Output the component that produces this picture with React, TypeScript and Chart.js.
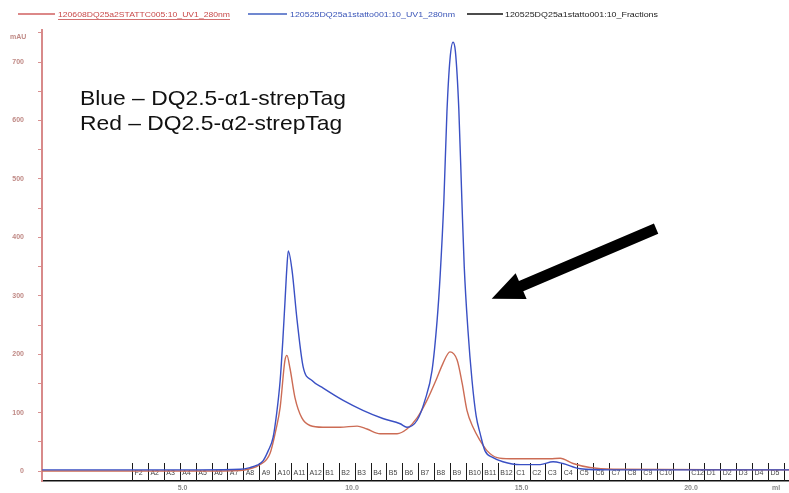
import React, { useEffect, useRef } from "react";
import { Chart, registerables } from "chart.js";

Chart.register(...registerables);

// UV 280 nm trace, DQ2.5-α1-strepTag run (ml, mAU)
const blueVolume = [
  0.86, 2.6, 5.5, 6.7, 6.99, 7.2, 7.38, 7.53, 7.67, 7.78, 7.88, 7.96, 8.02, 8.08, 8.12,
  8.23, 8.38, 8.56, 8.82, 9.15, 9.74, 10.32, 10.91, 11.42, 11.62, 11.92, 12.15, 12.36,
  12.51, 12.6, 12.71, 12.8, 12.89, 12.98, 13.05, 13.15, 13.24, 13.31, 13.42, 13.54,
  13.66, 13.78, 13.92, 14.16, 14.45, 14.96, 15.55, 15.93, 16.22, 16.73, 17.61, 22.89,
];
const blueAbs = [
  2, 2, 2, 3, 6, 10, 18, 35, 57, 100, 155, 225, 287, 350, 377,
  344, 258, 178, 155, 142, 121, 104, 90, 81, 75, 87, 121, 172,
  258, 335, 464, 615, 705, 734, 718, 620, 464, 350, 241, 155,
  95, 64, 35, 23, 16, 11, 11, 16, 13, 4, 2, 2,
];

// UV 280 nm trace, DQ2.5-α2-strepTag run (ml, mAU)
const redVolume = [
  0.86, 5.5, 6.7, 6.99, 7.26, 7.58, 7.76, 7.88, 8.02, 8.08, 8.17, 8.32, 8.52, 8.76,
  9.14, 9.65, 10.15, 10.44, 10.83, 11.33, 11.62, 11.92, 12.21, 12.51, 12.68, 12.89,
  13.1, 13.25, 13.39, 13.57, 13.78, 13.98, 14.28, 14.66, 15.84, 16.14, 16.52, 17.02,
  17.7, 22.89,
];
const redAbs = [
  0, 0, 1, 4, 10, 30, 72, 109, 189, 198, 176, 125, 91, 78,
  75, 75, 77, 72, 64, 64, 72, 91, 121, 160, 184, 204,
  190, 150, 104, 75, 52, 35, 23, 21, 21, 22, 13, 6,
  3, 2,
];

// Fraction collector marks (ml) and fraction names
const fractionStarts = [
  3.51, 3.98, 4.45, 4.92, 5.39, 5.86, 6.32, 6.79, 7.26, 7.73, 8.2, 8.67, 9.14, 9.61,
  10.08, 10.55, 11.01, 11.48, 11.95, 12.42, 12.89, 13.36, 13.83, 14.3, 14.77, 15.24,
  15.7, 16.17, 16.64, 17.11, 17.58, 18.05, 18.52, 18.99, 19.46, 19.93, 20.39, 20.86,
  21.33, 21.8, 22.27, 22.74,
];
const fractionLabels = [
  "F2", "A2", "A3", "A4", "A5", "A6", "A7", "A8", "A9", "A10", "A11", "A12",
  "B1", "B2", "B3", "B4", "B5", "B6", "B7", "B8", "B9", "B10", "B11", "B12",
  "C1", "C2", "C3", "C4", "C5", "C6", "C7", "C8", "C9", "C10", "", "C12",
  "D1", "D2", "D3", "D4", "D5",
];

const volumeTicks = [5, 10, 15, 20];
const absTicks = [0, 50, 100, 150, 200, 250, 300, 350, 400, 450, 500, 550, 600, 650, 700, 750];

const curveNames = [
  "120608DQ25a2STATTC005:10_UV1_280nm",
  "120525DQ25a1statto001:10_UV1_280nm",
  "120525DQ25a1statto001:10_Fractions",
];
const noteLines = ["Blue – DQ2.5-α1-strepTag", "Red – DQ2.5-α2-strepTag"];

const RED = "#cc6c55";
const BLUE = "#3a50c4";
const FONT = "'Liberation Sans', Arial, sans-serif";

const fractionPlugin = {
  id: "fractions",
  beforeDatasetsDraw(chart: any) {
    const { ctx, chartArea } = chart;
    const xs = chart.scales.x;
    const bottom = chartArea.bottom;
    ctx.save();
    ctx.strokeStyle = "#1a1a1a";
    ctx.lineWidth = 1;
    for (const v of fractionStarts) {
      const px = Math.round(xs.getPixelForValue(v)) + 0.5;
      if (px < chartArea.left || px > chartArea.right) continue;
      ctx.beginPath();
      ctx.moveTo(px, bottom - 18);
      ctx.lineTo(px, bottom);
      ctx.stroke();
    }
    ctx.fillStyle = "#444";
    ctx.font = `7px ${FONT}`;
    ctx.textBaseline = "middle";
    ctx.textAlign = "left";
    fractionLabels.forEach((lab, i) => {
      const px = xs.getPixelForValue(fractionStarts[i]);
      if (px > chartArea.right) return;
      ctx.fillText(lab, px + 2.5, bottom - 8);
    });
    ctx.restore();
  },
};

function fitText(ctx: CanvasRenderingContext2D, text: string, x: number, y: number, width: number) {
  const w = ctx.measureText(text).width;
  ctx.save();
  ctx.translate(x, y);
  ctx.scale(width / w, 1);
  ctx.fillText(text, 0, 0);
  ctx.restore();
}

const overlayPlugin = {
  id: "overlay",
  afterDraw(chart: any) {
    const { ctx } = chart;
    const xs = chart.scales.x;
    const ys = chart.scales.y;
    ctx.save();

    // curve legend row
    const legend = [
      { color: "#d06060", text: "#c84a4a", l0: 18, l1: 55, t0: 58, tw: 172, underline: true },
      { color: "#4060c0", text: "#3a55b8", l0: 248, l1: 287, t0: 290, tw: 165, underline: false },
      { color: "#111", text: "#222", l0: 467, l1: 503, t0: 505, tw: 153, underline: false },
    ];
    ctx.font = `8px ${FONT}`;
    ctx.textBaseline = "middle";
    ctx.textAlign = "left";
    legend.forEach((item, i) => {
      ctx.strokeStyle = item.color;
      ctx.lineWidth = 1.5;
      ctx.beginPath();
      ctx.moveTo(item.l0, 14);
      ctx.lineTo(item.l1, 14);
      ctx.stroke();
      ctx.fillStyle = item.text;
      fitText(ctx, curveNames[i], item.t0, 15, item.tw);
      if (item.underline) {
        ctx.strokeStyle = item.text;
        ctx.lineWidth = 0.8;
        ctx.beginPath();
        ctx.moveTo(item.t0, 19.5);
        ctx.lineTo(item.t0 + item.tw, 19.5);
        ctx.stroke();
      }
    });

    // axis units
    ctx.font = `bold 7px ${FONT}`;
    ctx.fillStyle = "#c08a86";
    ctx.fillText("mAU", 10, 37);
    ctx.fillStyle = "#8a8a8a";
    ctx.fillText("ml", 772, 488);

    // run description
    ctx.fillStyle = "#111";
    ctx.font = `21px ${FONT}`;
    ctx.textBaseline = "alphabetic";
    const w0 = ctx.measureText(noteLines[0]).width;
    const sx = 266 / w0;
    noteLines.forEach((line, i) => {
      ctx.save();
      ctx.translate(80, 105 + i * 25);
      ctx.scale(sx, 1);
      ctx.fillText(line, 0, 0);
      ctx.restore();
    });

    // arrow pointing at the main elution peak
    const tail = { x: xs.getPixelForValue(18.97), y: ys.getPixelForValue(415) };
    const tip = { x: xs.getPixelForValue(14.12), y: ys.getPixelForValue(295) };
    const dx = tip.x - tail.x;
    const dy = tip.y - tail.y;
    const len = Math.hypot(dx, dy);
    const ux = dx / len;
    const uy = dy / len;
    const nx = -uy;
    const ny = ux;
    const headLen = 32;
    const headHalf = 14;
    const shaftHalf = 5.5;
    const bx = tip.x - ux * headLen;
    const by = tip.y - uy * headLen;
    ctx.fillStyle = "#000";
    ctx.beginPath();
    ctx.moveTo(tail.x + nx * shaftHalf, tail.y + ny * shaftHalf);
    ctx.lineTo(bx + nx * shaftHalf, by + ny * shaftHalf);
    ctx.lineTo(bx + nx * headHalf, by + ny * headHalf);
    ctx.lineTo(tip.x, tip.y);
    ctx.lineTo(bx - nx * headHalf, by - ny * headHalf);
    ctx.lineTo(bx - nx * shaftHalf, by - ny * shaftHalf);
    ctx.lineTo(tail.x - nx * shaftHalf, tail.y - ny * shaftHalf);
    ctx.closePath();
    ctx.fill();

    ctx.restore();
  },
};

export default function App() {
  const ref = useRef<HTMLCanvasElement>(null);

  useEffect(() => {
    const canvas = ref.current;
    if (!canvas) return;
    const chart = new Chart(canvas, {
      type: "line",
      data: {
        datasets: [
          {
            label: curveNames[1],
            data: blueVolume.map((x, i) => ({ x, y: blueAbs[i] })),
            borderColor: BLUE,
            borderWidth: 1.4,
            pointRadius: 0,
            cubicInterpolationMode: "monotone",
            fill: false,
          },
          {
            label: curveNames[0],
            data: redVolume.map((x, i) => ({ x, y: redAbs[i] })),
            borderColor: RED,
            borderWidth: 1.4,
            pointRadius: 0,
            cubicInterpolationMode: "monotone",
            fill: false,
          },
        ],
      },
      options: {
        animation: false,
        responsive: false,
        devicePixelRatio: 1,
        layout: { padding: { top: 30, left: 0, right: 0, bottom: 0 } },
        plugins: { legend: { display: false }, tooltip: { enabled: false } },
        scales: {
          x: {
            type: "linear",
            min: 0.855,
            max: 22.89,
            afterFit: (s: any) => {
              s.height = 12;
              s.paddingLeft = 0;
              s.paddingRight = 0;
            },
            afterBuildTicks: (s: any) => {
              s.ticks = volumeTicks.map((v) => ({ value: v }));
            },
            grid: { display: false, drawTicks: false },
            border: { display: true, color: "#111", width: 1.5 },
            ticks: {
              font: { size: 7, family: FONT, weight: "bold" },
              color: "#8a8a8a",
              padding: 3,
              maxRotation: 0,
              autoSkip: false,
              callback: (v: any) => Number(v).toFixed(1),
            },
          },
          y: {
            type: "linear",
            min: -17,
            max: 755,
            afterFit: (s: any) => {
              s.width = 42;
              s.paddingTop = 0;
              s.paddingBottom = 0;
            },
            afterBuildTicks: (s: any) => {
              s.ticks = absTicks.map((v) => ({ value: v }));
            },
            grid: { drawOnChartArea: false, tickLength: 4, color: "#d89090" },
            border: { color: "#d88a8a", width: 2 },
            ticks: {
              font: { size: 7, family: FONT, weight: "bold" },
              color: "#c08a86",
              padding: 14,
              autoSkip: false,
              callback: (v: any) => (Number(v) % 100 === 0 ? String(v) : ""),
            },
          },
        },
      },
      plugins: [fractionPlugin, overlayPlugin],
    } as any);
    return () => chart.destroy();
  }, []);

  return (
    <div style={{ position: "fixed", left: 0, top: 0, width: 789, height: 493, background: "#fff" }}>
      <canvas ref={ref} width={789} height={493} style={{ display: "block", width: 789, height: 493 }} />
    </div>
  );
}
